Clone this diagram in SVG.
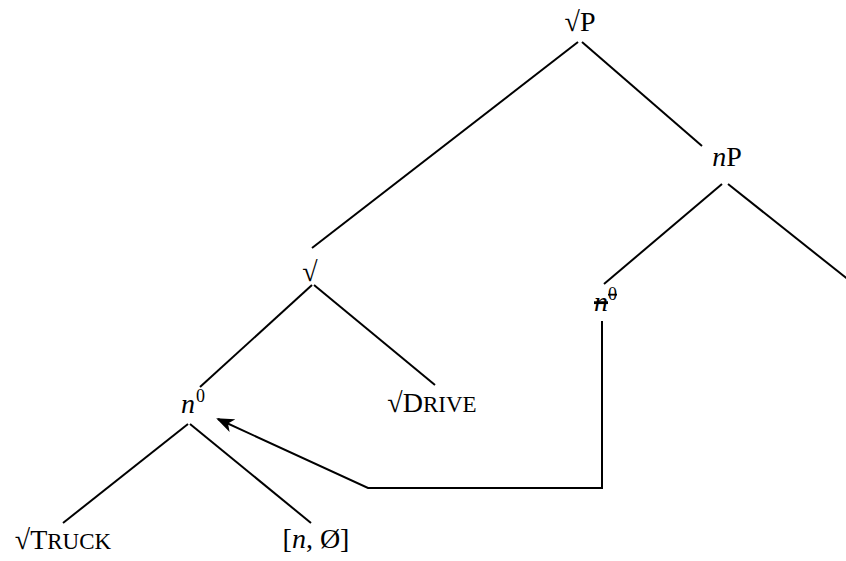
<svg xmlns="http://www.w3.org/2000/svg" width="846" height="561" viewBox="0 0 846 561">
<style>
.t{font-family:"Liberation Serif","Times New Roman",serif;font-size:28px;fill:#000}
.m{text-anchor:middle}
.i{font-style:italic}
.sc{font-size:23px}
.sup{font-size:18px}
.e{stroke:#000;stroke-width:2;fill:none}
.s{text-decoration:line-through}
</style>
<defs>
<marker id="ah" markerWidth="18" markerHeight="14" refX="16" refY="7" orient="auto" markerUnits="userSpaceOnUse">
<path d="M0,0 L18,7 L0,14 L5,7 Z" fill="#000"/>
</marker>
</defs>
<g id="edges">
<line class="e" x1="578" y1="42" x2="312" y2="248"/>
<line class="e" x1="582" y1="42" x2="702" y2="146"/>
<line class="e" x1="722" y1="184" x2="604" y2="284"/>
<line class="e" x1="728" y1="184" x2="850" y2="281"/>
<line class="e" x1="312" y1="285" x2="200" y2="387"/>
<line class="e" x1="314" y1="285" x2="435" y2="385"/>
<line class="e" x1="188" y1="424" x2="63" y2="523"/>
<line class="e" x1="190" y1="424" x2="311" y2="523"/>
<polyline class="e" points="602,321 602,488 368,488 218,419" marker-end="url(#ah)"/>
</g>
<g id="rootP"><text class="t m" x="580" y="31">√P</text></g>
<g id="nP"><text class="t m" x="727" y="166"><tspan class="i">n</tspan>P</text></g>
<g id="root"><text class="t m" x="310" y="281">√</text></g>
<g id="n0trace"><text class="t i s" x="594" y="311">n</text><text class="t sup s" x="608" y="300">0</text></g>
<g id="n0"><text class="t i" x="181" y="413">n</text><text class="t sup" x="196" y="402">0</text></g>
<g id="drive"><text class="t m" x="432" y="412">√D<tspan class="sc">RIVE</tspan></text></g>
<g id="truck"><text class="t m" x="63" y="549">√T<tspan class="sc">RUCK</tspan></text></g>
<g id="nnull"><text class="t m" x="316" y="548">[<tspan class="i">n</tspan>, Ø]</text></g>
</svg>
